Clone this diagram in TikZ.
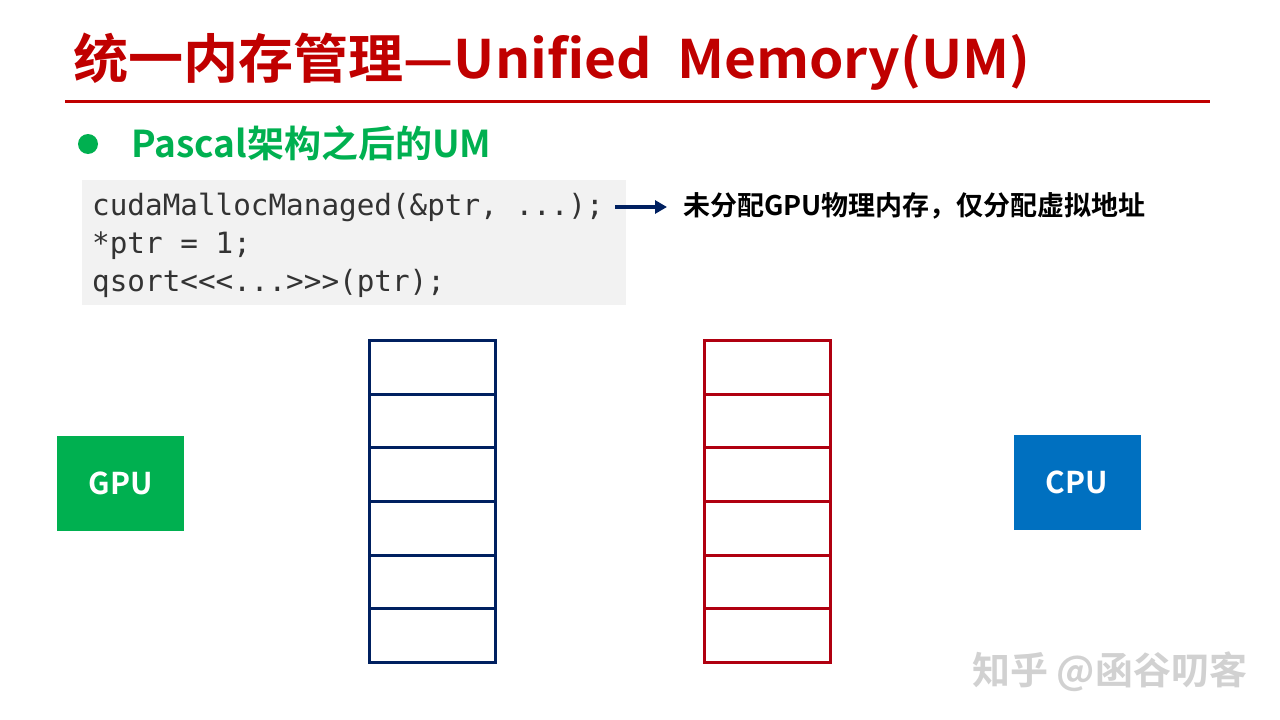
\documentclass[tikz,border=0pt]{standalone}
\usepackage{fontspec}
\setmainfont{Noto Sans CJK SC}[BoldFont={Noto Sans CJK SC Bold}]
\newfontfamily\cjkb{Noto Sans CJK SC Bold}
\newfontfamily\codefont{DejaVu Sans Mono}
\usetikzlibrary{arrows.meta}
\definecolor{titlered}{HTML}{C00000}
\definecolor{pgreen}{HTML}{00B050}
\definecolor{navy}{HTML}{002060}
\definecolor{cpublue}{HTML}{0070C0}
\definecolor{codebg}{HTML}{F2F2F2}
\definecolor{codetext}{HTML}{333333}
\definecolor{stackred}{HTML}{B00010}
\tikzset{
  cell/.style={draw, line width=2.6pt, minimum width=126pt, inner sep=0pt, anchor=north west},
  procbox/.style={minimum width=127pt, minimum height=95pt, inner sep=0pt, text=white, font=\cjkb\fontsize{30}{36}\selectfont},
  codeline/.style={anchor=base west, inner sep=0pt, text=codetext, font=\codefont\fontsize{29.3}{34}\selectfont},
}
\begin{document}
\begin{tikzpicture}[x=1pt,y=-1pt]
\useasboundingbox (0,0) rectangle (1280,720);
% title
\node[anchor=base west, inner sep=0pt, text=titlered, xscale=1.04, transform shape, font=\cjkb\fontsize{53}{60}\selectfont] (title) at (73,78) {统一内存管理—Unified\ \ Memory(UM)};
\coordinate (rl) at (65,101);
\coordinate (rr) at (1210,101);
\draw[titlered, line width=3pt] (rl) -- (rr);
% bullet
\node[circle, fill=pgreen, minimum size=20pt, inner sep=0pt] (bullet) at (88,144) {};
\node[anchor=base west, inner sep=0pt, text=pgreen, font=\cjkb\fontsize{37}{42}\selectfont] (sub) at (131,157) {Pascal架构之后的UM};
% code
\node[fill=codebg, anchor=north west, minimum width=544pt, minimum height=125pt, inner sep=0pt] (code) at (82,180) {};
\node[codeline] (c1) at (92,215) {cudaMallocManaged(\&ptr, ...);};
\node[codeline] (c2) at (92,253) {*ptr = 1;};
\node[codeline] (c3) at (92,291) {qsort<{}<{}<...>{}>{}>(ptr);};
% arrow + note
\node[anchor=base west, inner sep=0pt, font=\cjkb\fontsize{27}{30}\selectfont] (note) at (683,215) {未分配GPU物理内存，仅分配虚拟地址};
\coordinate (as) at (615,207);
\coordinate (ae) at (667,207);
\draw[navy, line width=4pt, -{Triangle[length=12pt,width=13pt]}] (as) -- (ae);
% GPU / CPU
\node[procbox, fill=pgreen] (gpu) at (120.5,483) {GPU};
\node[procbox, fill=cpublue] (cpu) at (1077,482) {CPU};
% stacks
\foreach \i/\t/\h in {0/339/54,1/393/53,2/446/54,3/500/54,4/554/53,5/607/54} {
  \node[cell, navy, minimum height=\h pt] (n\i) at (368,\t) {};
  \node[cell, stackred, minimum height=\h pt] (r\i) at (703,\t) {};
}
% watermark
\node[anchor=base west, inner sep=0pt, text=black!18, font=\cjkb\fontsize{38}{42}\selectfont] (wm) at (972,684) {知乎 @函谷叨客};
\end{tikzpicture}
\end{document}
